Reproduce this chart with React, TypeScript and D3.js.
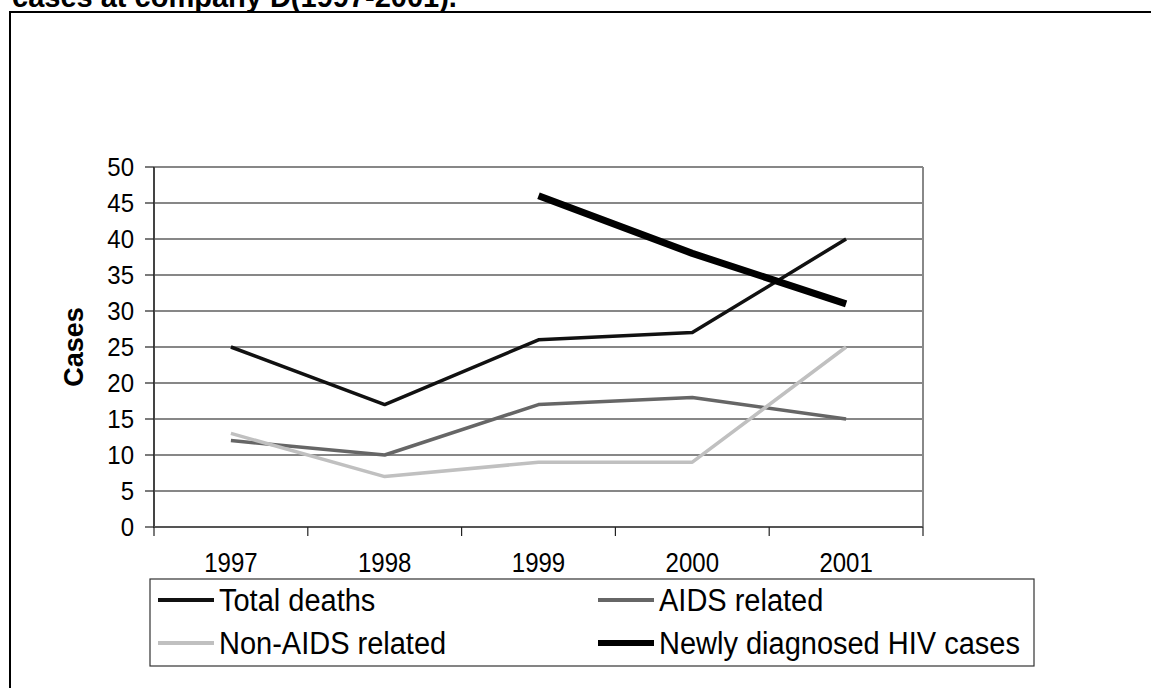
import React, { useEffect, useRef } from 'react';
import * as d3 from 'd3';

const years = ['1997', '1998', '1999', '2000', '2001'];
const totalDeaths = [25, 17, 26, 27, 40];
const aidsRelated = [12, 10, 17, 18, 15];
const nonAidsRelated = [13, 7, 9, 9, 25];
const newlyDiagnosed = [null, null, 46, 38, 31];
const yTicks = [0, 5, 10, 15, 20, 25, 30, 35, 40, 45, 50];

const seriesNames = ['Total deaths', 'AIDS related', 'Non-AIDS related', 'Newly diagnosed HIV cases'];

const App = () => {
  const chartRef = useRef<SVGSVGElement>(null);

  useEffect(() => {
    drawChart();
  }, []);

  const drawChart = () => {
    const width = 1151;
    const height = 688;
    const font = '"Liberation Sans", Arial, sans-serif';

    const svg = d3.select(chartRef.current)
      .attr('width', width)
      .attr('height', height)
      .style('display', 'block')
      .style('background', 'white');
    svg.selectAll('*').remove();

    // outer frame (right and bottom edges fall outside the picture)
    svg.append('rect')
      .attr('x', 10).attr('y', 12)
      .attr('width', 1200).attr('height', 800)
      .attr('fill', 'none')
      .attr('stroke', '#000')
      .attr('stroke-width', 2);

    // title, clipped by the top edge like in the source
    svg.append('text')
      .attr('x', 12).attr('y', 7)
      .attr('font-family', font)
      .attr('font-weight', 'bold')
      .attr('font-size', 29)
      .text('cases at company D(1997-2001).');

    const left = 154, right = 923, top = 167, bottom = 527;

    const x = d3.scaleBand().domain(years).range([left, right]);
    const cx = (d: string) => (x(d) as number) + x.bandwidth() / 2;
    const y = d3.scaleLinear().domain([0, 50]).range([bottom, top]);

    // gridlines
    svg.append('g')
      .selectAll('line')
      .data(yTicks.filter(t => t > 0))
      .join('line')
      .attr('x1', left).attr('x2', right)
      .attr('y1', d => y(d)).attr('y2', d => y(d))
      .attr('stroke', '#111')
      .attr('stroke-width', 1.2);

    // plot right border
    svg.append('line')
      .attr('x1', right).attr('x2', right)
      .attr('y1', top).attr('y2', bottom)
      .attr('stroke', '#888')
      .attr('stroke-width', 2);

    // y axis
    svg.append('line')
      .attr('x1', left).attr('x2', left)
      .attr('y1', top).attr('y2', bottom + 1)
      .attr('stroke', '#444')
      .attr('stroke-width', 2);

    svg.append('g')
      .selectAll('line')
      .data(yTicks)
      .join('line')
      .attr('x1', left - 9).attr('x2', left)
      .attr('y1', d => y(d)).attr('y2', d => y(d))
      .attr('stroke', '#222')
      .attr('stroke-width', 1.2);

    svg.append('g')
      .selectAll('text')
      .data(yTicks)
      .join('text')
      .attr('transform', d => `translate(134, ${y(d) + 8.5}) scale(1, 1.05)`)
      .attr('text-anchor', 'end')
      .attr('font-family', font)
      .attr('font-size', 24)
      .text(d => d);

    // x axis
    svg.append('line')
      .attr('x1', left).attr('x2', right)
      .attr('y1', bottom).attr('y2', bottom)
      .attr('stroke', '#555')
      .attr('stroke-width', 2);

    const bounds = [...years.map(d => x(d) as number), right];
    svg.append('g')
      .selectAll('line')
      .data(bounds)
      .join('line')
      .attr('x1', d => d).attr('x2', d => d)
      .attr('y1', bottom).attr('y2', bottom + 9)
      .attr('stroke', '#222')
      .attr('stroke-width', 1.2);

    svg.append('g')
      .selectAll('text')
      .data(years)
      .join('text')
      .attr('transform', d => `translate(${cx(d)}, 572) scale(1, 1.12)`)
      .attr('text-anchor', 'middle')
      .attr('font-family', font)
      .attr('font-size', 24)
      .text(d => d);

    // y axis title
    svg.append('text')
      .attr('transform', `translate(83, ${(top + bottom) / 2}) rotate(-90)`)
      .attr('text-anchor', 'middle')
      .attr('font-family', font)
      .attr('font-weight', 'bold')
      .attr('font-size', 27)
      .text('Cases');

    const series = [
      { name: seriesNames[0], values: totalDeaths, color: '#111', w: 3.5 },
      { name: seriesNames[1], values: aidsRelated, color: '#666', w: 3.5 },
      { name: seriesNames[2], values: nonAidsRelated, color: '#c0c0c0', w: 3.5 },
      { name: seriesNames[3], values: newlyDiagnosed, color: '#000', w: 7 },
    ];

    const line = d3.line<number | null>()
      .defined(d => d !== null)
      .x((d, i) => cx(years[i]))
      .y(d => y(d as number));

    svg.append('g')
      .selectAll('path')
      .data(series)
      .join('path')
      .attr('d', d => line(d.values))
      .attr('fill', 'none')
      .attr('stroke', d => d.color)
      .attr('stroke-width', d => d.w)
      .attr('stroke-linejoin', 'round');

    // legend
    svg.append('rect')
      .attr('x', 150).attr('y', 579)
      .attr('width', 884).attr('height', 87)
      .attr('fill', 'white')
      .attr('stroke', '#333')
      .attr('stroke-width', 1.2);

    const legendPos = [
      { lx: 158, ly: 600 },
      { lx: 598, ly: 600 },
      { lx: 158, ly: 643 },
      { lx: 598, ly: 643 },
    ];

    const items = svg.append('g')
      .selectAll('g')
      .data(series)
      .join('g')
      .attr('transform', (d, i) => `translate(${legendPos[i].lx}, ${legendPos[i].ly})`);

    items.append('line')
      .attr('x1', 0).attr('x2', 56)
      .attr('stroke', d => d.color)
      .attr('stroke-width', d => d.w === 7 ? 6 : 4);

    items.append('text')
      .attr('transform', 'translate(61, 11) scale(1, 1.05)')
      .attr('font-family', font)
      .attr('font-size', 29)
      .text(d => d.name);
  };

  return (
    <div style={{ position: 'absolute', left: 0, top: 0 }}>
      <svg ref={chartRef}></svg>
    </div>
  );
};

export default App;
